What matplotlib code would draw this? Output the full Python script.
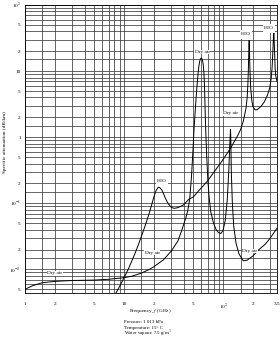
import matplotlib
matplotlib.use('Agg')
import matplotlib.pyplot as plt
from matplotlib.ticker import NullFormatter

# dry air (oxygen) specific attenuation
dry_f = [1, 1.2, 1.5, 2, 3, 5, 7, 10, 12, 15, 18, 20, 25, 30, 35, 38, 42, 44, 46,
         48, 49, 50, 51, 52, 53, 54, 55, 56, 57, 58, 59, 60, 61, 62, 63, 64, 65,
         66, 67, 68, 70, 72, 75, 80, 85, 90, 95, 100, 105, 110, 114, 116.5, 118,
         118.75, 119.5, 121, 124, 128, 135, 145, 160, 175, 200, 230, 266, 300, 350]
dry_a = [0.0050, 0.0057, 0.0063, 0.0066, 0.0068, 0.0069, 0.0071, 0.0075, 0.0079,
         0.0088, 0.0100, 0.0110, 0.014, 0.019, 0.027, 0.038, 0.060, 0.078, 0.115,
         0.26, 0.45, 0.8, 1.4, 2.2, 3.4, 5.0, 7.0, 9.5, 12.0, 14.0, 15.3, 15.8,
         15.5, 14.5, 12.5, 9.5, 5.5, 2.2, 1.1, 0.6, 0.24, 0.13, 0.075, 0.05, 0.04,
         0.036, 0.035, 0.039, 0.055, 0.11, 0.3, 0.7, 1.1, 1.3, 1.0, 0.3, 0.1, 0.045,
         0.025, 0.017, 0.0135, 0.0138, 0.016, 0.020, 0.024, 0.030, 0.042]

# water vapour (7.5 g/m3) specific attenuation
wv_f = [7, 8, 9, 10, 11, 12, 13, 14, 15, 16, 17, 18, 19, 20, 21, 22, 22.5, 23, 24,
        25, 26, 27, 28, 30, 32, 35, 40, 45, 50, 60, 70, 80, 90, 100, 120, 140,
        150, 160, 170, 175, 178, 180, 181.5, 183.3, 185, 187, 190, 195, 200, 210,
        220, 240, 260, 280, 295, 305, 312, 318, 322, 325.2, 328, 332, 335, 340, 350]
wv_a = [0.0030, 0.0040, 0.0055, 0.0075, 0.0100, 0.0135, 0.018, 0.024, 0.032,
        0.042, 0.055, 0.072, 0.095, 0.125, 0.155, 0.173, 0.175, 0.172, 0.16, 0.14,
        0.122, 0.108, 0.098, 0.087, 0.084, 0.086, 0.095, 0.115, 0.125, 0.17, 0.22,
        0.29, 0.37, 0.46, 0.70, 1.05, 1.3, 1.75, 2.7, 4.0, 6.5, 11, 18, 29, 17,
        9.5, 5.5, 3.6, 2.9, 2.6, 2.6, 2.9, 3.4, 4.3, 5.5, 7.5, 11, 20, 32, 39, 28,
        17, 11, 8.5, 7]

x_ticks = [1, 2, 5, 10, 20, 50, 100, 200, 350]
x_labels = ['1', '2', '5', '10', '2', '5', '$10^2$', '2', '3.5']
y_ticks = [0.005, 0.01, 0.02, 0.05, 0.1, 0.2, 0.5, 1, 2, 5, 10, 20, 50, 100]
y_labels = ['5', '$10^{-2}$', '2', '5', '$10^{-1}$', '2', '5', '1', '2', '5',
            '10', '2', '5', '$10^2$']

# (text, f, attenuation)
curve_labels = [('Dry air', 2.0, 0.0087), ('H$_2$O', 24, 0.215),
                ('Dry air', 61.5, 19.5), ('Dry air', 118, 2.3),
                ('H$_2$O', 170, 36), ('H$_2$O', 290, 44),
                ('Dry air', 185, 0.019), ('Dry air', 19.2, 0.018)]

plt.rcParams['font.family'] = ['Liberation Serif', 'DejaVu Serif']
plt.rcParams['mathtext.fontset'] = 'stix'

fig = plt.figure(figsize=(2.8, 3.43), dpi=100)
ax = fig.add_axes([25 / 280, 1 - 293 / 343, 252 / 280, 288 / 343])
ax.set_xscale('log')
ax.set_yscale('log')

mult = [1, 1.5, 2, 3, 4, 5, 6, 7, 8, 9]
xg = [m * 10 ** e for e in range(0, 3) for m in mult if m * 10 ** e < 350]
yg = [m * 10 ** e for e in range(-3, 2) for m in mult]
ax.set_xticks(xg, minor=True)
ax.set_yticks(yg, minor=True)
ax.xaxis.set_minor_formatter(NullFormatter())
ax.yaxis.set_minor_formatter(NullFormatter())
ax.set_xticks(x_ticks)
ax.set_xticklabels(x_labels)
ax.set_yticks(y_ticks)
ax.set_yticklabels(y_labels)
# limits after the ticks, set_ticks widens the view
ax.set_xlim(1, 350)
ax.set_ylim(0.0044, 100)
ax.grid(which='both', color='#3c3c3c', lw=0.55)
ax.tick_params(which='both', length=0, labelsize=3.8)
ax.tick_params(axis='x', pad=6.5)
ax.tick_params(axis='y', pad=3)
for s in ax.spines.values():
    s.set_linewidth(0.6)

ax.plot(dry_f, dry_a, color='black', lw=0.7)
ax.plot(wv_f, wv_a, color='black', lw=0.7)

for txt, f, a in curve_labels:
    ax.text(f, a, txt, fontsize=3.8, ha='center', va='center',
            bbox=dict(facecolor='white', edgecolor='none', pad=0.3))

fig.text(5 / 280, 1 - 142 / 343, 'Specific attenuation (dB/km)', rotation=90,
         fontsize=3.8, ha='center', va='center')
fig.text(150 / 280, 1 - 311 / 343, 'Frequency, $f$ (GHz)', fontsize=3.8,
         ha='center', va='center')
fig.text(124 / 280, 1 - 322 / 343, 'Pressure: 1 013 hPa', fontsize=3.5, va='center')
fig.text(124 / 280, 1 - 328 / 343, 'Temperature: 15° C', fontsize=3.5, va='center')
fig.text(124 / 280, 1 - 334 / 343, 'Water vapour: 7.5 g/m$^3$', fontsize=3.5,
         va='center')

fig.savefig('out.png', dpi=100)
